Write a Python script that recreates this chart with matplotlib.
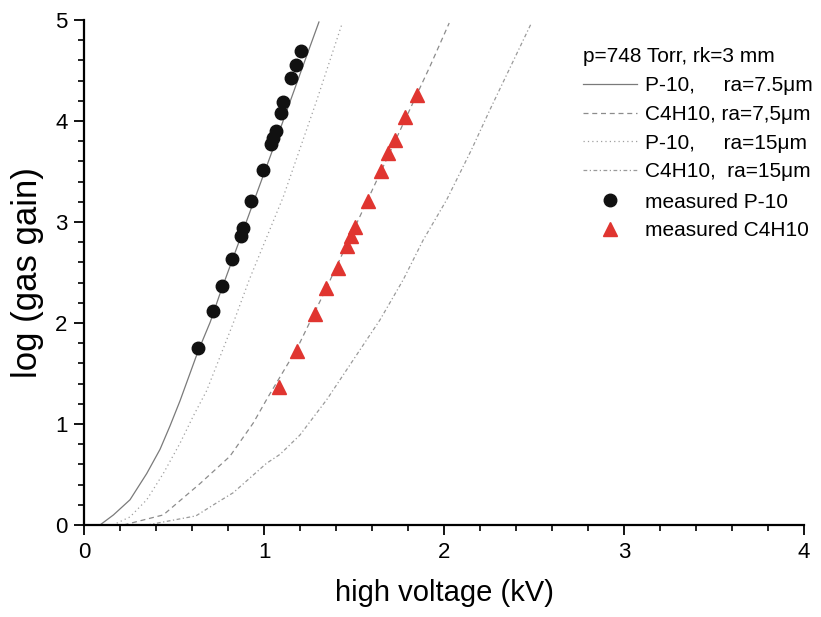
import matplotlib
matplotlib.use("Agg")
import matplotlib.pyplot as plt
from matplotlib import font_manager
from matplotlib.ticker import MultipleLocator

# ---- font: narrow sans if we have it ----
names = {f.name for f in font_manager.fontManager.ttflist}
family = "Liberation Sans Narrow" if "Liberation Sans Narrow" in names else "Liberation Sans"
plt.rcParams["font.family"] = [family, "DejaVu Sans"]

# ---- data ----
# computed gain curves (log10 gain vs HV in kV)
p10_75_x = [0.087, 0.162, 0.254, 0.347, 0.421, 0.476, 0.532, 0.630, 0.700, 0.754, 0.900, 1.050, 1.200, 1.304]
p10_75_y = [0.00, 0.10, 0.25, 0.51, 0.75, 0.98, 1.23, 1.71, 2.01, 2.29, 3.00, 3.73, 4.47, 4.98]

c4_75_x = [0.218, 0.439, 0.643, 0.809, 0.939, 1.022, 1.183, 1.344, 1.575, 1.921, 2.028]
c4_75_y = [0.00, 0.10, 0.41, 0.68, 1.01, 1.27, 1.75, 2.34, 3.22, 4.54, 4.97]

p10_15_x = [0.158, 0.254, 0.347, 0.439, 0.532, 0.606, 0.680, 0.828, 0.917, 1.106, 1.291, 1.430]
p10_15_y = [0.00, 0.08, 0.25, 0.51, 0.81, 1.08, 1.33, 2.00, 2.43, 3.25, 4.20, 4.95]

c4_15_x = [0.349, 0.620, 0.736, 0.828, 1.012, 1.088, 1.198, 1.347, 1.643, 1.773, 1.883, 2.014, 2.153, 2.254, 2.485]
c4_15_y = [0.00, 0.09, 0.22, 0.32, 0.61, 0.70, 0.89, 1.24, 2.03, 2.43, 2.82, 3.22, 3.72, 4.11, 4.97]

# measurements
meas_p10_x = [0.633, 0.717, 0.763, 0.822, 0.869, 0.880, 0.926, 0.991, 1.040, 1.047,
              1.065, 1.095, 1.106, 1.150, 1.176, 1.202]
meas_p10_y = [1.75, 2.12, 2.37, 2.63, 2.86, 2.94, 3.21, 3.51, 3.77, 3.83,
              3.90, 4.08, 4.19, 4.43, 4.55, 4.69]

meas_c4_x = [1.080, 1.183, 1.282, 1.343, 1.408, 1.458, 1.480, 1.504, 1.577, 1.647,
             1.687, 1.726, 1.784, 1.847]
meas_c4_y = [1.37, 1.72, 2.09, 2.35, 2.54, 2.76, 2.86, 2.95, 3.21, 3.50,
             3.68, 3.81, 4.04, 4.26]

# ---- plot ----
fig = plt.figure(figsize=(8.21, 6.17), dpi=100)
ax = fig.add_axes([0.1027, 0.1491, 0.8766, 0.8185])

l1, = ax.plot(p10_75_x, p10_75_y, "-", color="#7a7a7a", lw=0.9, label="P-10,     ra=7.5\u03bcm")
l2, = ax.plot(c4_75_x, c4_75_y, color="#8c8c8c", lw=0.9, ls=(0, (4, 3)), label="C4H10, ra=7,5\u03bcm")
l3, = ax.plot(p10_15_x, p10_15_y, color="#a0a0a0", lw=0.9, ls=(0, (1, 2.5)), label="P-10,     ra=15\u03bcm")
l4, = ax.plot(c4_15_x, c4_15_y, color="#9a9a9a", lw=0.9, ls=(0, (3, 2, 1, 2)), label="C4H10,  ra=15\u03bcm")
m1, = ax.plot(meas_p10_x, meas_p10_y, "o", color="#111111", ms=9, ls="none", label="measured P-10")
m2, = ax.plot(meas_c4_x, meas_c4_y, "^", color="#e03530", ms=10.5, ls="none", label="measured C4H10")

ax.set_xlim(0, 4)
ax.set_ylim(0, 5)
ax.xaxis.set_major_locator(MultipleLocator(1))
ax.xaxis.set_minor_locator(MultipleLocator(0.2))
ax.yaxis.set_major_locator(MultipleLocator(1))
ax.yaxis.set_minor_locator(MultipleLocator(0.2))

for side in ("top", "right"):
    ax.spines[side].set_visible(False)
for side in ("left", "bottom"):
    ax.spines[side].set_linewidth(1.6)
ax.tick_params(which="major", length=7, width=1.3, labelsize=16, pad=5)
ax.tick_params(which="minor", length=4, width=1.2)

ax.set_xlabel("high voltage (kV)", fontsize=21, labelpad=12)
ax.set_ylabel("log (gas gain)", fontsize=25, labelpad=8)

leg_kw = dict(loc="upper left", frameon=False, fontsize=15, borderpad=0,
              handlelength=2.6, handletextpad=0.35, labelspacing=0.47, borderaxespad=0)
leg1 = ax.legend(handles=[l1, l2, l3, l4], bbox_to_anchor=(0.693, 0.946),
                 title="p=748 Torr, rk=3 mm", title_fontsize=15, alignment="left", **leg_kw)
ax.add_artist(leg1)
ax.legend(handles=[m1, m2], bbox_to_anchor=(0.693, 0.658), **leg_kw)

fig.savefig("out.png", dpi=100)
